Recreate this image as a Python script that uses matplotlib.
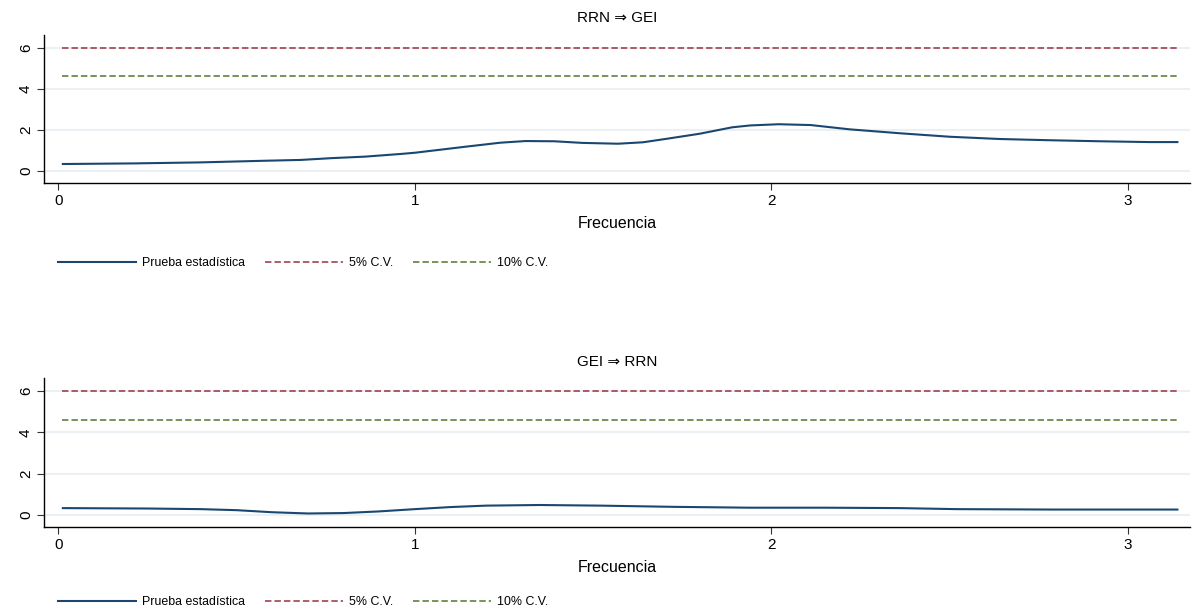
import matplotlib
matplotlib.use("Agg")
import matplotlib.pyplot as plt
from matplotlib.lines import Line2D

plt.rcParams['font.family'] = ['Liberation Sans', 'DejaVu Sans']

# Data
freq_top = [0.01, 0.21, 0.40, 0.58, 0.68, 0.77, 0.86, 0.96, 1.0, 1.145, 1.24, 1.31,
            1.39, 1.47, 1.57, 1.64, 1.71, 1.80, 1.89, 1.94, 2.02, 2.11, 2.22,
            2.36, 2.50, 2.64, 2.78, 2.92, 3.06, 3.1416]
stat_top = [0.34, 0.37, 0.42, 0.50, 0.54, 0.63, 0.70, 0.83, 0.89, 1.19, 1.38, 1.46,
            1.45, 1.37, 1.33, 1.40, 1.58, 1.82, 2.13, 2.22, 2.28, 2.24, 2.03,
            1.84, 1.67, 1.56, 1.50, 1.45, 1.41, 1.41]

freq_bot = [0.01, 0.25, 0.40, 0.50, 0.60, 0.70, 0.80, 0.90, 1.0, 1.10, 1.20, 1.35,
            1.52, 1.73, 1.94, 2.15, 2.36, 2.52, 2.79, 3.1416]
stat_bot = [0.33, 0.31, 0.28, 0.23, 0.13, 0.07, 0.09, 0.17, 0.28, 0.38, 0.45, 0.48,
            0.45, 0.39, 0.35, 0.35, 0.33, 0.28, 0.26, 0.26]

cv5 = 5.99
cv10 = 4.61
titles = ["RRN \u21d2 GEI", "GEI \u21d2 RRN"]
legend_labels = ["Prueba estadística", "5% C.V.", "10% C.V."]
xticks = [0, 1, 2, 3]
yticks = [0, 2, 4, 6]

navy = '#1a476f'
maroon = '#993240'
green = '#55752f'
grid_c = '#eaf0f3'
dash = (4.2, 2.0)

W, H = 1192, 614
fig = plt.figure(figsize=(W / 100, H / 100), dpi=100)

panels = [
    (freq_top, stat_top, titles[0], (44, 35, 1190, 183), 263),
    (freq_bot, stat_bot, titles[1], (44, 378, 1190, 527), 602),
]

for fx, sy, title, (l, t, r, b), leg_y in panels:
    ax = fig.add_axes([l / W, 1 - b / H, (r - l) / W, (b - t) / H])
    x0, x1 = fx[0], fx[-1]
    ax.plot(fx, sy, color=navy, lw=1.5, solid_capstyle='butt',
            solid_joinstyle='round', zorder=3)
    ax.plot([x0, x1], [cv5, cv5], color=maroon, lw=1.1, dashes=dash, zorder=3)
    ax.plot([x0, x1], [cv10, cv10], color=green, lw=1.1, dashes=dash, zorder=3)
    ax.set_xlim(-0.04, 3.174)
    ax.set_ylim(-0.585, 6.63)
    ax.set_yticks(yticks)
    ax.set_xticks(xticks)
    ax.set_yticklabels([str(v) for v in yticks], rotation=90, va='center', fontsize=11)
    ax.set_xticklabels([str(v) for v in xticks], fontsize=11)
    ax.grid(axis='y', color=grid_c, lw=1.5, zorder=0)
    ax.set_axisbelow(True)
    for s in ['top', 'right']:
        ax.spines[s].set_visible(False)
    for s in ['left', 'bottom']:
        ax.spines[s].set_color('black')
        ax.spines[s].set_linewidth(1.0)
    ax.tick_params(axis='both', direction='out', length=5, width=0.8, color='#333333')
    ax.tick_params(axis='x', pad=3)
    ax.tick_params(axis='y', pad=3)
    ax.set_xlabel("Frecuencia", fontsize=11.5, labelpad=6)
    ax.set_title(title, fontsize=11, pad=9)

    handles = [
        Line2D([], [], color=navy, lw=1.5),
        Line2D([], [], color=maroon, lw=1.1, dashes=dash),
        Line2D([], [], color=green, lw=1.1, dashes=dash),
    ]
    fig.legend(handles, legend_labels, loc='center left',
               bbox_to_anchor=(58 / W, 1 - leg_y / H), ncol=3, frameon=False,
               fontsize=8.9, handlelength=6.3, handletextpad=0.5, columnspacing=1.6,
               borderaxespad=0, borderpad=0)

fig.savefig("out.png", dpi=100, facecolor='white')
